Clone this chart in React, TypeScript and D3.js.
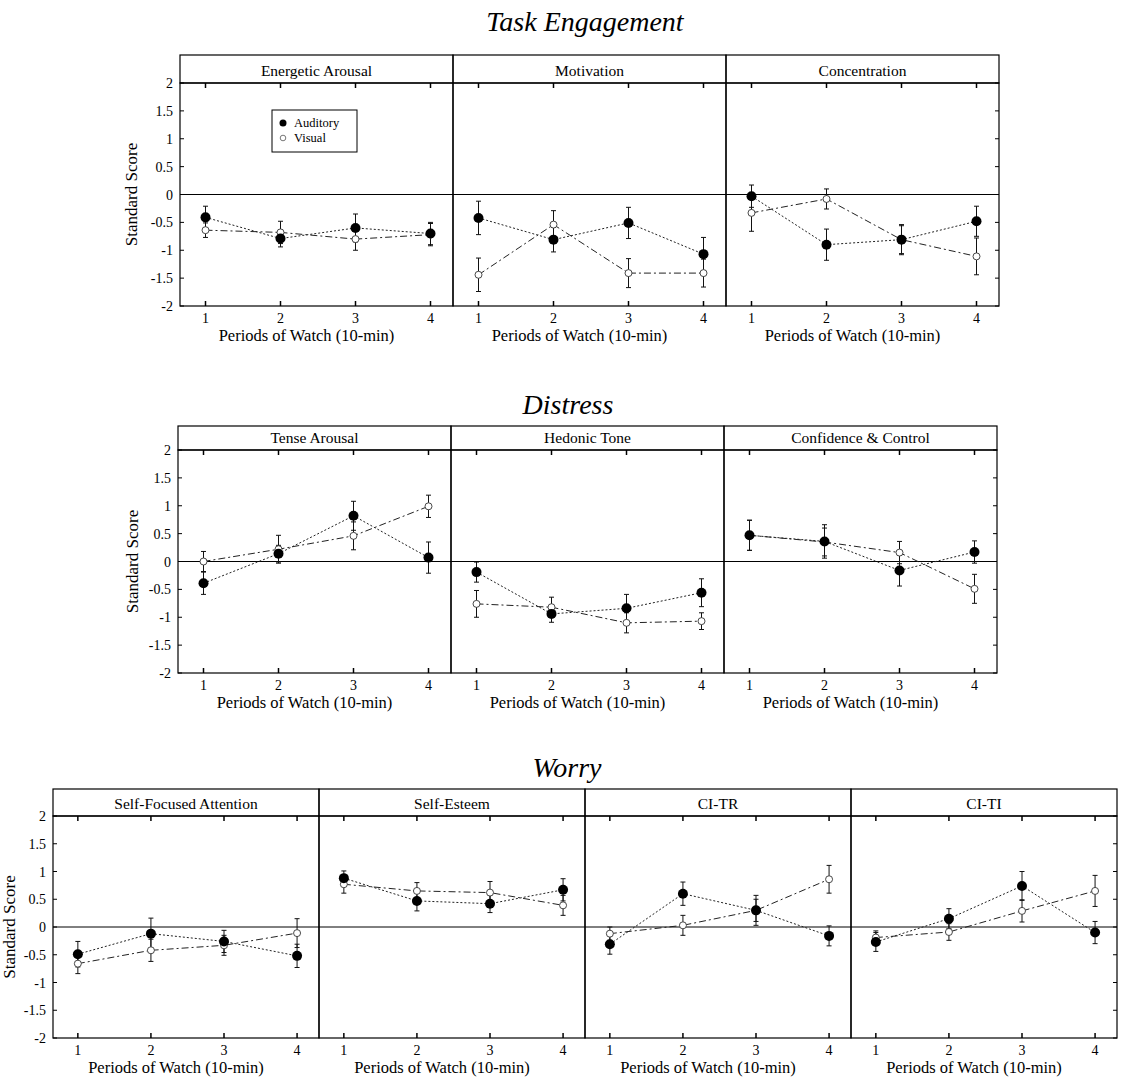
import React from 'react';
import * as d3 from 'd3';

const periods = [1, 2, 3, 4];
const yTicks = [2, 1.5, 1, 0.5, 0, -0.5, -1, -1.5, -2];
const yTickLabels = ['2', '1.5', '1', '0.5', '0', '-0.5', '-1', '-1.5', '-2'];
const groupTitles = ['Task Engagement', 'Distress', 'Worry'];
const panelTitles = [
  ['Energetic Arousal', 'Motivation', 'Concentration'],
  ['Tense Arousal', 'Hedonic Tone', 'Confidence & Control'],
  ['Self-Focused Attention', 'Self-Esteem', 'CI-TR', 'CI-TI'],
];
const legendLabels = ['Auditory', 'Visual'];
const xAxisTitle = 'Periods of Watch (10-min)';
const yAxisTitle = 'Standard Score';

// per panel (row-major order), values for periods 1..4
const auditoryMean = [
  [-0.41, -0.79, -0.6, -0.7],
  [-0.42, -0.81, -0.51, -1.07],
  [-0.03, -0.9, -0.81, -0.48],
  [-0.39, 0.14, 0.82, 0.07],
  [-0.19, -0.94, -0.84, -0.56],
  [0.47, 0.36, -0.16, 0.17],
  [-0.49, -0.12, -0.26, -0.52],
  [0.88, 0.47, 0.42, 0.67],
  [-0.31, 0.6, 0.3, -0.16],
  [-0.27, 0.15, 0.74, -0.1],
];
const auditorySE = [
  [0.2, 0.15, 0.25, 0.2],
  [0.3, 0.22, 0.28, 0.3],
  [0.2, 0.28, 0.27, 0.27],
  [0.2, 0.15, 0.26, 0.28],
  [0.18, 0.15, 0.25, 0.25],
  [0.27, 0.3, 0.28, 0.2],
  [0.23, 0.28, 0.2, 0.21],
  [0.13, 0.18, 0.16, 0.2],
  [0.18, 0.21, 0.27, 0.18],
  [0.17, 0.18, 0.26, 0.2],
];
const visualMean = [
  [-0.64, -0.68, -0.8, -0.72],
  [-1.44, -0.54, -1.41, -1.41],
  [-0.33, -0.08, -0.81, -1.11],
  [0.0, 0.22, 0.46, 0.99],
  [-0.76, -0.82, -1.1, -1.07],
  [0.47, 0.35, 0.16, -0.49],
  [-0.66, -0.42, -0.33, -0.11],
  [0.77, 0.65, 0.62, 0.39],
  [-0.12, 0.03, 0.3, 0.86],
  [-0.19, -0.09, 0.29, 0.65],
];
const visualSE = [
  [0.13, 0.2, 0.2, 0.2],
  [0.3, 0.25, 0.26, 0.25],
  [0.33, 0.18, 0.25, 0.33],
  [0.18, 0.25, 0.25, 0.2],
  [0.24, 0.18, 0.18, 0.15],
  [0.27, 0.25, 0.2, 0.26],
  [0.18, 0.2, 0.18, 0.26],
  [0.16, 0.15, 0.2, 0.18],
  [0.12, 0.18, 0.2, 0.25],
  [0.12, 0.15, 0.2, 0.28],
];

const FONT = '"Liberation Serif", "Times New Roman", serif';

const rows = [
  { left: 180, w: 273, headTop: 55, top: 83, bottom: 306, titleY: 31, titleX: 585, ylabX: 137 },
  { left: 178, w: 273, headTop: 426, top: 450, bottom: 673, titleY: 414, titleX: 568, ylabX: 138 },
  { left: 53, w: 266, headTop: 789, top: 816, bottom: 1038, titleY: 777, titleX: 567, ylabX: 15 },
];

function Panel({ row, col, idx, last }: any) {
  const r = rows[row];
  const x0 = r.left + col * r.w;
  const x1 = x0 + r.w;
  const x = d3.scaleLinear().domain([0.66, 4.3]).range([x0, x1]);
  const y = d3.scaleLinear().domain([-2, 2]).range([r.bottom, r.top]);
  const aud = periods.map((p, i) => ({ p, m: auditoryMean[idx][i], e: auditorySE[idx][i] }));
  const vis = periods.map((p, i) => ({ p, m: visualMean[idx][i], e: visualSE[idx][i] }));
  const line = d3.line<any>().x((d) => x(d.p)).y((d) => y(d.m));
  const errBars = (data: any[], key: string) =>
    data.map((d, i) => (
      <g key={key + i} stroke="#111" strokeWidth={1}>
        <line x1={x(d.p)} x2={x(d.p)} y1={y(d.m - d.e)} y2={y(d.m + d.e)} />
        <line x1={x(d.p) - 2.5} x2={x(d.p) + 2.5} y1={y(d.m - d.e)} y2={y(d.m - d.e)} />
        <line x1={x(d.p) - 2.5} x2={x(d.p) + 2.5} y1={y(d.m + d.e)} y2={y(d.m + d.e)} />
      </g>
    ));
  return (
    <g>
      <rect x={x0} y={r.headTop} width={r.w} height={r.top - r.headTop} fill="none" stroke="#000" strokeWidth={1.2} />
      <text x={(x0 + x1) / 2} y={r.top - 7} textAnchor="middle" fontSize={15.5} fontFamily={FONT}>
        {panelTitles[row][col]}
      </text>
      <rect x={x0} y={r.top} width={r.w} height={r.bottom - r.top} fill="none" stroke="#000" strokeWidth={1.2} />
      <line x1={x0} x2={x1} y1={y(0)} y2={y(0)} stroke="#000" strokeWidth={1} />
      {periods.map((p) => (
        <g key={'xt' + p} stroke="#000" strokeWidth={1.5}>
          <line x1={x(p)} x2={x(p)} y1={r.bottom} y2={r.bottom - 5} />
          <line x1={x(p)} x2={x(p)} y1={r.top} y2={r.top + 5} />
        </g>
      ))}
      {periods.map((p) => (
        <text key={'xl' + p} x={x(p)} y={r.bottom + 17} textAnchor="middle" fontSize={14} fontFamily={FONT}>
          {p}
        </text>
      ))}
      <text x={(x0 + x1) / 2 - 10} y={r.bottom + 35} textAnchor="middle" fontSize={16.5} fontFamily={FONT}>
        {xAxisTitle}
      </text>
      {col === 0 &&
        yTicks.map((t, i) => (
          <g key={'yt' + i}>
            <line x1={x0} x2={x0 + 4} y1={y(t)} y2={y(t)} stroke="#000" strokeWidth={1} />
            <text x={x0 - 7} y={y(t) + 5} textAnchor="end" fontSize={14} fontFamily={FONT}>
              {yTickLabels[i]}
            </text>
          </g>
        ))}
      {last &&
        yTicks.map((t, i) => (
          <line key={'ytr' + i} x1={x1} x2={x1 - 4} y1={y(t)} y2={y(t)} stroke="#000" strokeWidth={1} />
        ))}
      {col === 0 && (
        <text
          transform={`translate(${r.ylabX},${(r.top + r.bottom) / 2}) rotate(-90)`}
          textAnchor="middle"
          fontSize={17}
          fontFamily={FONT}
        >
          {yAxisTitle}
        </text>
      )}
      <path d={line(aud) || ''} fill="none" stroke="#222" strokeWidth={1} strokeDasharray="2,2" />
      <path d={line(vis) || ''} fill="none" stroke="#222" strokeWidth={1} strokeDasharray="7,3,2,3" />
      {errBars(vis, 'v')}
      {errBars(aud, 'a')}
      {vis.map((d, i) => (
        <circle key={'vc' + i} cx={x(d.p)} cy={y(d.m)} r={3.5} fill="#fff" stroke="#333" strokeWidth={0.9} />
      ))}
      {aud.map((d, i) => (
        <circle key={'ac' + i} cx={x(d.p)} cy={y(d.m)} r={5} fill="#000" />
      ))}
    </g>
  );
}

export default function App() {
  const legend = { x: 272, y: 110, w: 85, h: 42 };
  let idx = 0;
  const panels: any[] = [];
  panelTitles.forEach((titles, row) => {
    titles.forEach((_, col) => {
      panels.push(<Panel key={row + '-' + col} row={row} col={col} idx={idx} last={col === titles.length - 1} />);
      idx++;
    });
  });
  return (
    <svg width={1123} height={1089} style={{ position: 'absolute', left: 0, top: 0, background: '#fff' }}>
      <rect x={0} y={0} width={1123} height={1089} fill="#fff" />
      {groupTitles.map((t, i) => (
        <text key={t} x={rows[i].titleX} y={rows[i].titleY} textAnchor="middle" fontSize={28} fontStyle="italic" fontFamily={FONT}>
          {t}
        </text>
      ))}
      {panels}
      <g>
        <rect x={legend.x} y={legend.y} width={legend.w} height={legend.h} fill="#fff" stroke="#000" strokeWidth={1} />
        <circle cx={legend.x + 11} cy={legend.y + 13} r={3.5} fill="#000" />
        <text x={legend.x + 22} y={legend.y + 17} fontSize={12.5} fontFamily={FONT}>
          {legendLabels[0]}
        </text>
        <circle cx={legend.x + 11} cy={legend.y + 28} r={2.8} fill="#fff" stroke="#555" strokeWidth={0.8} />
        <text x={legend.x + 22} y={legend.y + 32} fontSize={12.5} fontFamily={FONT}>
          {legendLabels[1]}
        </text>
      </g>
    </svg>
  );
}
